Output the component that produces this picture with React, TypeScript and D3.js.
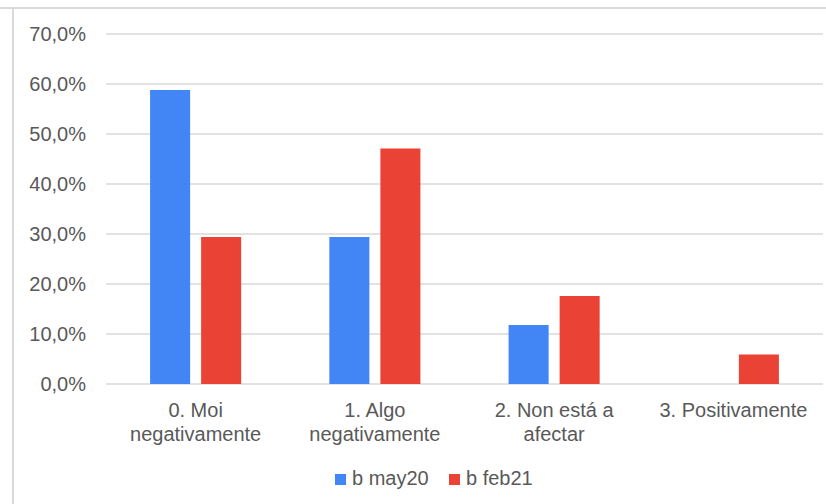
import React from 'react';
import * as d3 from 'd3';

const categories = [['0. Moi', 'negativamente'], ['1. Algo', 'negativamente'], ['2. Non está a', 'afectar'], ['3. Positivamente']];
const seriesNames = ['b may20', 'b feb21'];
const may20 = [0.588, 0.294, 0.118, 0];
const feb21 = [0.294, 0.471, 0.176, 0.059];
const yTicks = [0, 0.1, 0.2, 0.3, 0.4, 0.5, 0.6, 0.7];
const colors = ['#4285F4', '#EA4335'];

const W = 826;
const H = 504;
const font = 'Arial, "Liberation Sans", sans-serif';

export default function App() {
  const catKeys = categories.map((_, i) => String(i));
  const x0 = d3.scaleBand<string>().domain(catKeys).range([106, 823]).paddingInner(0.492).paddingOuter(0.246);
  const x1 = d3.scaleBand<string>().domain(seriesNames).range([0, x0.bandwidth()]).paddingInner(11 / 51);
  const y = d3.scaleLinear().domain([0, 0.7]).range([384, 34]);
  const fmt = (v: number) => (v * 100).toFixed(1).replace('.', ',') + '%';
  const values = [may20, feb21];

  return (
    <svg width={W} height={H} style={{ position: 'absolute', left: 0, top: 0, background: '#fff' }} fontFamily={font}>
      <line x1={0} x2={W} y1={8} y2={8} stroke="#d9d9d9" strokeWidth={2} />
      <line x1={13} x2={13} y1={8} y2={H} stroke="#d9d9d9" strokeWidth={2} />
      {yTicks.map(t => (
        <g key={t}>
          <line x1={106} x2={823} y1={y(t)} y2={y(t)} stroke="#d9d9d9" strokeWidth={1.5} />
          <text x={86} y={y(t)} dy="0.35em" textAnchor="end" fontSize={20} fill="#595959">{fmt(t)}</text>
        </g>
      ))}
      {catKeys.map((k, ci) => (
        <g key={k} transform={`translate(${x0(k)},0)`}>
          {seriesNames.map((s, si) => {
            const v = values[si][ci];
            if (v <= 0) return null;
            return (
              <rect key={s} x={x1(s)} y={y(v)} width={x1.bandwidth()} height={y(0) - y(v)} fill={colors[si]} />
            );
          })}
          {categories[ci].map((line, li) => (
            <text key={li} x={x0.bandwidth() / 2} y={417 + li * 24} textAnchor="middle" fontSize={20} fill="#595959">{line}</text>
          ))}
        </g>
      ))}
      {seriesNames.map((s, si) => {
        const lx = [335, 449][si];
        return (
          <g key={s}>
            <rect x={lx} y={474} width={11} height={11} fill={colors[si]} />
            <text x={lx + 17} y={485} fontSize={20} fill="#595959">{s}</text>
          </g>
        );
      })}
    </svg>
  );
}
